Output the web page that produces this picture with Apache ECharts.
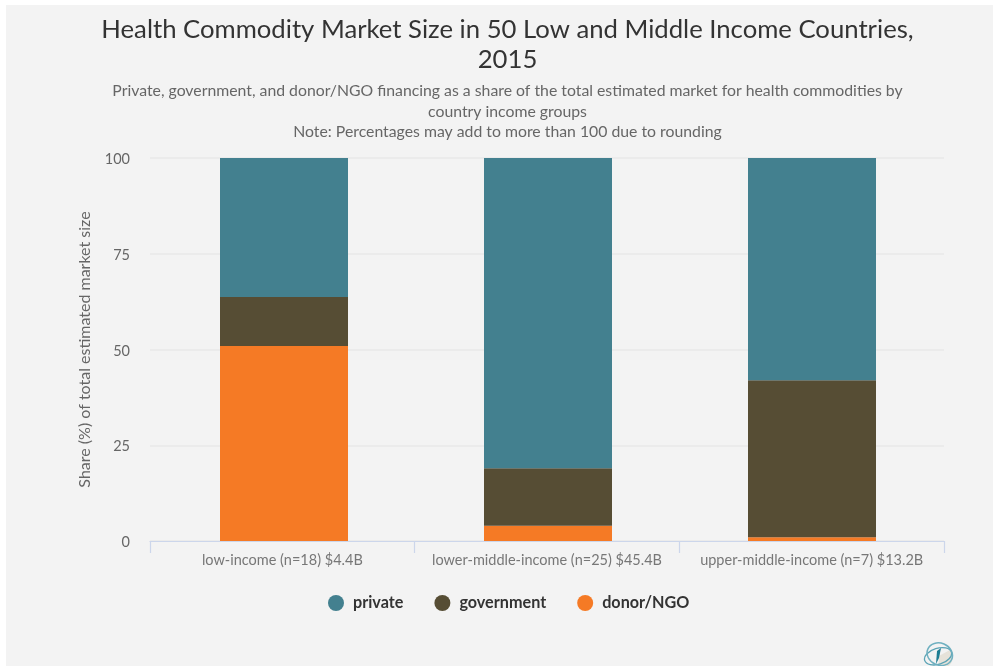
<!DOCTYPE html>
<html>
<head>
<meta charset="utf-8">
<style>html,body{margin:0;padding:0;background:#fff}#chart{width:993px;height:666px}</style>
<script src="https://cdn.jsdelivr.net/npm/echarts@6/dist/echarts.min.js"></script>
</head>
<body>
<div id="chart"></div>
<script>
const categories = ['low-income (n=18) $4.4B', 'lower-middle-income (n=25) $45.4B', 'upper-middle-income (n=7) $13.2B'];
const yTicks = [0, 25, 50, 75, 100];
const privateShare = [36.3, 81, 58];
const governmentShare = [12.8, 15, 41];
const donorShare = [50.9, 4, 1];
const titleText = 'Health Commodity Market Size in 50 Low and Middle Income Countries,\n2015';
const subtitleText = 'Private, government, and donor/NGO financing as a share of the total estimated market for health commodities by\ncountry income groups\nNote: Percentages may add to more than 100 due to rounding';

const TEAL = '#43808F', BROWN = '#564D34', ORANGE = '#F57A25';
const FONT = 'Lato';

function barSeries(name, data, color) {
  return {
    name, type: 'bar', stack: 'share', data,
    xAxisIndex: 1, yAxisIndex: 1,
    barWidth: 128,
    itemStyle: { color },
    emphasis: { disabled: true }
  };
}

const chart = echarts.init(document.getElementById('chart'), null, { renderer: 'canvas' });
chart.setOption({
  animation: false,
  backgroundColor: '#fff',
  textStyle: { fontFamily: FONT },
  title: [
    { text: titleText, left: 507.5, top: 15, textAlign: 'center', padding: 0,
      textStyle: { fontFamily: FONT, fontWeight: 400, fontSize: 25.7, lineHeight: 30, color: '#333' } },
    { text: subtitleText, left: 507.5, top: 81, textAlign: 'center', padding: 0,
      textStyle: { fontFamily: FONT, fontWeight: 400, fontSize: 15.8, lineHeight: 20.5, color: '#666' } }
  ],
  legend: {
    top: 595, left: 328, padding: 0,
    icon: 'circle', itemWidth: 16, itemHeight: 16, itemGap: 31,
    selectedMode: false,
    textStyle: { fontFamily: FONT, fontWeight: 700, fontSize: 16.2, color: '#333', padding: [0, 0, 0, 4] },
    data: ['private', 'government', 'donor/NGO']
  },
  grid: [
    { left: 150, width: 794, top: 158, height: 383, containLabel: false },
    { left: 152, width: 792, top: 158, height: 383, containLabel: false }
  ],
  xAxis: [
    { type: 'category', gridIndex: 0, data: categories,
      axisLine: { lineStyle: { color: '#ccd6eb', width: 1.2 } },
      axisTick: { show: true, length: 12, alignWithLabel: false, lineStyle: { color: '#ccd6eb', width: 1.2 } },
      axisLabel: { fontFamily: FONT, fontSize: 14.5, color: '#777', margin: 12, interval: 0 } },
    { type: 'category', gridIndex: 1, data: categories, show: false }
  ],
  yAxis: [
    { type: 'value', gridIndex: 0, min: yTicks[0], max: yTicks[yTicks.length - 1], interval: 25,
      name: 'Share (%) of total estimated market size', nameLocation: 'middle', nameGap: 57,
      nameTextStyle: { fontFamily: FONT, fontSize: 16, color: '#666' },
      axisLine: { show: false }, axisTick: { show: false },
      axisLabel: { fontFamily: FONT, fontSize: 14.5, color: '#666', margin: 20, verticalAlign: 'top', padding: [-6, 0, 0, 0] },
      splitLine: { lineStyle: { color: '#e9e9e9', width: 1.5 } } },
    { type: 'value', gridIndex: 1, min: yTicks[0], max: yTicks[yTicks.length - 1], interval: 25, show: false }
  ],
  // Panel behind the plot and the small globe mark in the corner
  graphic: [
    { type: 'rect', z: -10, silent: true, shape: { x: 6, y: 5, width: 987, height: 661 }, style: { fill: '#f3f3f3' } },
    { type: 'group', x: 939, y: 656, silent: true, children: [
      { type: 'sector', shape: { cx: 0, cy: 0, r: 14, r0: 0, startAngle: -0.5, endAngle: 1.6 }, style: { fill: '#e2ddd2', opacity: 0.8 } },
      { type: 'ellipse', shape: { cx: -1, cy: 0, rx: 14, ry: 8 }, rotation: 0.3, style: { fill: 'none', stroke: '#5aa3b5', lineWidth: 1.3 } },
      { type: 'ellipse', shape: { cx: 0, cy: -2, rx: 13, ry: 11 }, rotation: -0.4, style: { fill: 'none', stroke: '#6fb0c0', lineWidth: 1.5 } },
      { type: 'polygon', shape: { points: [[-3, 8], [-2, -5], [2, -8], [0, 2]] }, style: { fill: '#1f7d93' } }
    ] }
  ],
  series: [
    barSeries('private', privateShare, TEAL),
    barSeries('government', governmentShare, BROWN),
    barSeries('donor/NGO', donorShare, ORANGE)
  ].reverse()
});
</script>
</body>
</html>
